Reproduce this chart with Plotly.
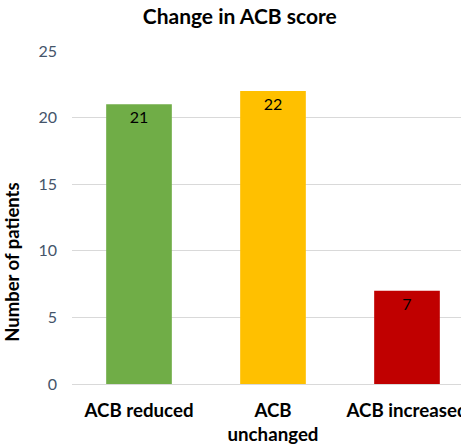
import plotly.graph_objects as go

categories = ["ACB reduced", "ACB<br>unchanged", "ACB increased"]
patients = [21, 22, 7]
bar_colors = ["#70AD47", "#FFC000", "#C00000"]
y_ticks = [0, 5, 10, 15, 20, 25]

FONT = "Lato, Carlito, Calibri, sans-serif"

fig = go.Figure(
    go.Bar(
        x=categories,
        y=patients,
        marker=dict(color=bar_colors, line=dict(width=0)),
        width=0.49,
        text=[str(v) for v in patients],
        textposition="inside",
        insidetextanchor="end",
        textangle=0,
        textfont=dict(family=FONT, size=16, color="#000000"),
        hoverinfo="x+y",
    )
)

fig.update_layout(
    width=461,
    height=446,
    margin=dict(l=72, r=0, t=51, b=62, autoexpand=False),
    paper_bgcolor="white",
    plot_bgcolor="white",
    showlegend=False,
    title=dict(
        text="<b>Change in ACB score</b>",
        x=0.52,
        xanchor="center",
        y=0.962,
        yanchor="middle",
        font=dict(family=FONT, size=21, color="#000000"),
    ),
    font=dict(family=FONT),
)

# y-axis title placed as a rotated annotation
fig.add_annotation(
    text="<b>Number of patients</b>",
    textangle=-90,
    xref="paper",
    yref="paper",
    x=-0.155,
    y=0.366,
    xanchor="center",
    yanchor="middle",
    showarrow=False,
    font=dict(family=FONT, size=18.5, color="#000000"),
)

fig.update_xaxes(
    range=[-0.5, 2.403],
    automargin=False,
    showgrid=False,
    showline=False,
    zeroline=False,
    ticks="",
    ticklabelstandoff=13,
    tickfont=dict(family=FONT, size=18.7, color="#000000", weight="bold"),
)

fig.update_yaxes(
    range=[0, 25],
    automargin=False,
    tickvals=y_ticks,
    showgrid=True,
    gridcolor="#D9D9D9",
    gridwidth=1,
    zeroline=True,
    zerolinecolor="#D9D9D9",
    zerolinewidth=1,
    showline=False,
    ticks="",
    ticklabelstandoff=14,
    tickfont=dict(family=FONT, size=16, color="#44546A"),
)

fig.write_html("out.html")
